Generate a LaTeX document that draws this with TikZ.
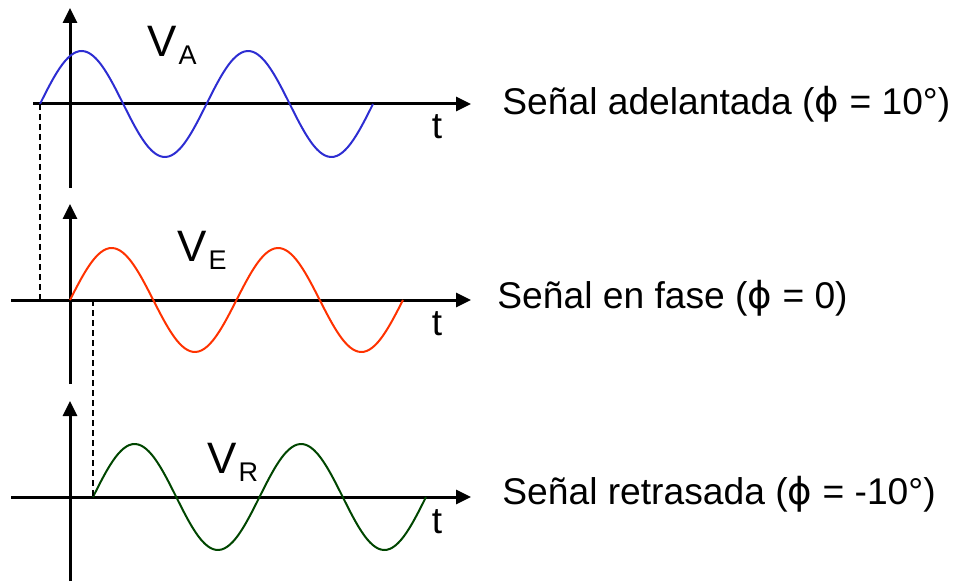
\documentclass[tikz,border=0pt]{standalone}
\usepackage{fontspec}
\setmainfont{Liberation Sans}
\newfontfamily\phifont{DejaVu Sans}
\usepackage{xcolor}
\usetikzlibrary{arrows.meta,positioning}
\definecolor{sigA}{RGB}{45,45,210}
\definecolor{sigE}{RGB}{255,50,0}
\definecolor{sigR}{RGB}{0,70,0}
\newcommand{\sublabel}[1]{V\kern1pt\raisebox{-4pt}{\fontsize{13.5}{14}\selectfont #1}}
\newcommand{\ph}{{\phifont ϕ}}

\begin{document}
\begin{tikzpicture}[x=0.5pt,y=-0.5pt,>={Triangle[length=7.5pt,width=7pt]},
  axis/.style={line width=1.5pt,->},
  wave/.style={line width=1pt,smooth},
  guide/.style={line width=1pt,dash pattern=on 3pt off 2pt},
  vlab/.style={anchor=base west,inner sep=0pt,font=\fontsize{22}{24}\selectfont},
  tlab/.style={inner sep=0pt,font=\fontsize{18.5}{20}\selectfont},
  sig/.style={anchor=west,inner sep=0pt,font=\fontsize{18.6}{20}\selectfont}]
\useasboundingbox (0,0) rectangle (954,583);
\foreach \n/\y/\xs in {a/104/33,e/300/11,r/497/11}{
  \coordinate (\n-b) at (70,\y+84);
  \coordinate (\n-t) at (70,\y-96);
  \coordinate (\n-l) at (\xs,\y);
  \coordinate (\n-r) at (471,\y);
  \draw[axis] (\n-b) -- (\n-t);
  \draw[axis] (\n-l) -- (\n-r);
}
\coordinate (a-0) at (40,104);
\coordinate (e-0) at (70,300);
\coordinate (r-0) at (93,497);
\coordinate (a-g) at (40,300);
\coordinate (e-g) at (93,300);
\draw[wave,sigA] plot[domain=0:333,samples=120] ({40+\x},{104-53*sin(\x/166.5*360)});
\draw[wave,sigE] plot[domain=0:333,samples=120] ({70+\x},{300-52*sin(\x/166.5*360)});
\draw[wave,sigR] plot[domain=0:333,samples=120] ({93+\x},{497-53*sin(\x/166.5*360)});
\draw[guide] (a-0) -- (a-g);
\draw[guide] (e-g) -- (r-0);
\node[vlab] (va) at (147,57) {\sublabel{A}};
\node[vlab] (ve) at (177,262) {\sublabel{E}};
\node[vlab] (vr) at (207,473) {\sublabel{R}};
\node[tlab] (ta) at (437,127) {t};
\node[tlab] (te) at (437,324) {t};
\node[tlab] (tr) at (437,522) {t};
\node[sig] (sa) at (502,104) {Señal adelantada (\ph{} = 10°)};
\node[sig] (se) at (497,298) {Señal en fase (\ph{} = 0)};
\node[sig] (sr) at (502,494) {Señal retrasada (\ph{} = -10°)};
\end{tikzpicture}
\end{document}
